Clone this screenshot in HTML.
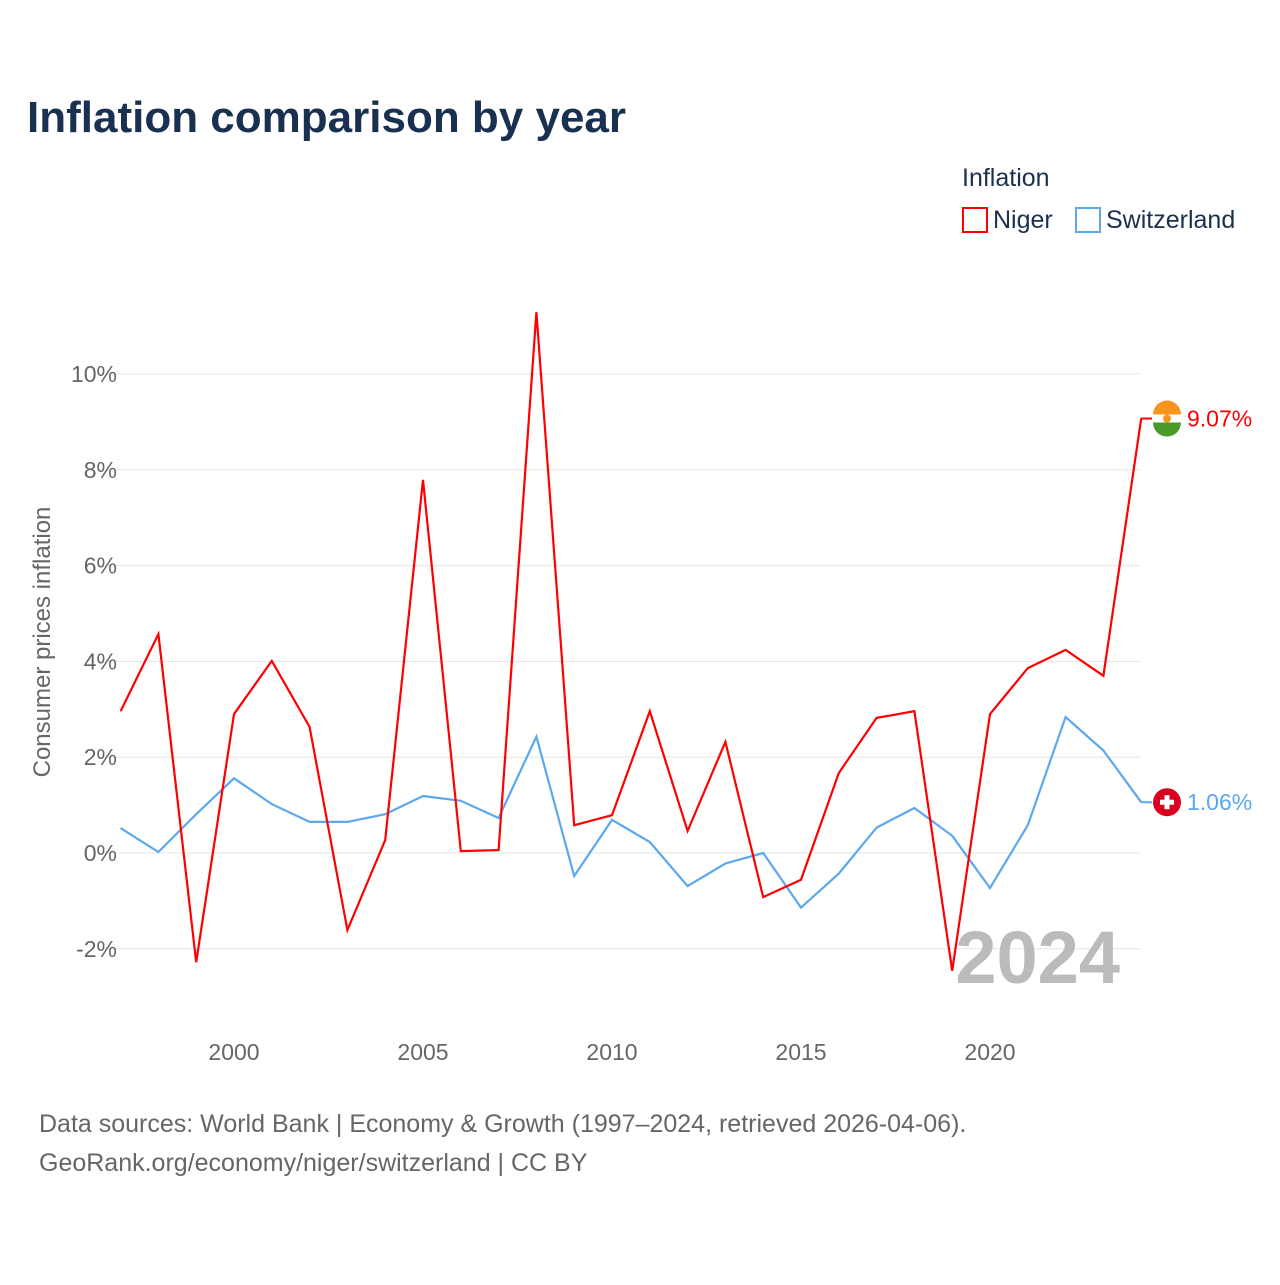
<!DOCTYPE html>
<html><head><meta charset="utf-8"><style>
body{margin:0;background:#fff;font-family:"Liberation Sans",sans-serif;}
svg text{font-family:"Liberation Sans",sans-serif;}
</style></head><body>
<svg id="c" width="1280" height="1280" viewBox="0 0 1280 1280" xmlns="http://www.w3.org/2000/svg">
<rect width="1280" height="1280" fill="#fff"/>
<text x="27" y="132" font-size="44" font-weight="bold" fill="#1a3050">Inflation comparison by year</text>
<g>
<text x="962" y="186" font-size="25" fill="#1a3050">Inflation</text>
<g><rect x="963" y="208" width="24" height="24" fill="none" stroke="#f00" stroke-width="2"/><text x="993" y="228" font-size="25" fill="#1a3050">Niger</text></g>
<g><rect x="1076" y="208" width="24" height="24" fill="none" stroke="#5ba8ee" stroke-width="2"/><text x="1106" y="228" font-size="25" fill="#1a3050">Switzerland</text></g>
</g>
<g id="grid"></g>
<g id="yt"></g>
<g id="xt"></g>
<text transform="translate(50,642) rotate(-90)" text-anchor="middle" font-size="24" fill="#666">Consumer prices inflation</text>
<text x="1120" y="983" text-anchor="end" font-size="74" font-weight="bold" fill="#bbb">2024</text>
<g id="series"></g>
<text x="39" y="1132" font-size="25" fill="#666">Data sources: World Bank | Economy &amp; Growth (1997–2024, retrieved 2026-04-06).</text>
<text x="39" y="1171" font-size="25" fill="#666">GeoRank.org/economy/niger/switzerland | CC BY</text>
</svg>
<script>
const years=[1997,1998,1999,2000,2001,2002,2003,2004,2005,2006,2007,2008,2009,2010,2011,2012,2013,2014,2015,2016,2017,2018,2019,2020,2021,2022,2023,2024];
const niger=[2.96,4.57,-2.28,2.90,4.01,2.63,-1.61,0.27,7.79,0.04,0.06,11.29,0.58,0.79,2.96,0.46,2.32,-0.92,-0.56,1.67,2.82,2.96,-2.46,2.90,3.86,4.24,3.70,9.07];
const swiss=[0.52,0.02,0.81,1.56,1.02,0.65,0.65,0.81,1.19,1.09,0.73,2.43,-0.48,0.69,0.23,-0.69,-0.22,0,-1.14,-0.43,0.53,0.94,0.36,-0.73,0.58,2.84,2.14,1.06];
const yTicks=[-2,0,2,4,6,8,10];
const xTicks=[2000,2005,2010,2015,2020];
const NS="http://www.w3.org/2000/svg";
const X=y=>120.6+(y-1997)*37.8;
const Y=v=>853-v*47.9;
function mk(t,a,p){const e=document.createElementNS(NS,t);for(const k in a)e.setAttribute(k,a[k]);p.appendChild(e);return e;}
const grid=document.getElementById('grid'),yt=document.getElementById('yt'),xt=document.getElementById('xt'),ser=document.getElementById('series');
yTicks.forEach(v=>{
const l=mk('line',{x1:97,x2:1141,y1:Y(v),y2:Y(v),stroke:'#e6e6e6','stroke-width':1},grid);


const t=mk('text',{x:117,y:Y(v)+8,'text-anchor':'end','font-size':23,fill:'#666'},yt);
t.textContent=v+'%';


});
xTicks.forEach(v=>{
const t=mk('text',{x:X(v),y:1060,'text-anchor':'middle','font-size':23,fill:'#666'},xt);
t.textContent=v;


});
function line(vals,col,name){
const d=vals.map((v,i)=>(i?'L':'M')+X(years[i]).toFixed(1)+','+Y(v).toFixed(1)).join(' ');
const p=mk('path',{d:d,fill:'none',stroke:col,'stroke-width':2.2,'stroke-linejoin':'miter'},ser);


}
line(swiss,'#5ba8ee','switzerland-line');
line(niger,'#ff0000','niger-line');
const last=years.length-1;
// Niger end label
const ny=Y(niger[last]);
mk('line',{x1:1141,x2:1152,y1:ny,y2:ny,stroke:'#f00','stroke-width':2},ser);
const fg=mk('g',{},ser);


mk('circle',{cx:1167,cy:ny,r:14,fill:'#fff'},fg);
mk('path',{d:`M1153,${ny-4} A14,14 0 0 1 1181,${ny-4} Z`,fill:'#f7931e'},fg);
mk('path',{d:`M1153,${ny+4} A14,14 0 0 0 1181,${ny+4} Z`,fill:'#4a9a2a'},fg);
mk('circle',{cx:1167,cy:ny,r:4,fill:'#f7931e'},fg);
const nt=mk('text',{x:1187,y:ny+8,'font-size':23,fill:'#f00'},ser);
nt.textContent=niger[last].toFixed(2)+'%';


// Swiss end label
const sy=Y(swiss[last]);
mk('line',{x1:1141,x2:1152,y1:sy,y2:sy,stroke:'#5ba8ee','stroke-width':2},ser);
const sg=mk('g',{},ser);


mk('circle',{cx:1167,cy:sy,r:14,fill:'#d8001e'},sg);
mk('rect',{x:1160,y:sy-2.5,width:14,height:5,fill:'#fff'},sg);
mk('rect',{x:1164.5,y:sy-7,width:5,height:14,fill:'#fff'},sg);
const st=mk('text',{x:1187,y:sy+8,'font-size':23,fill:'#5ba8ee'},ser);
st.textContent=swiss[last].toFixed(2)+'%';


</script>
</body></html>
